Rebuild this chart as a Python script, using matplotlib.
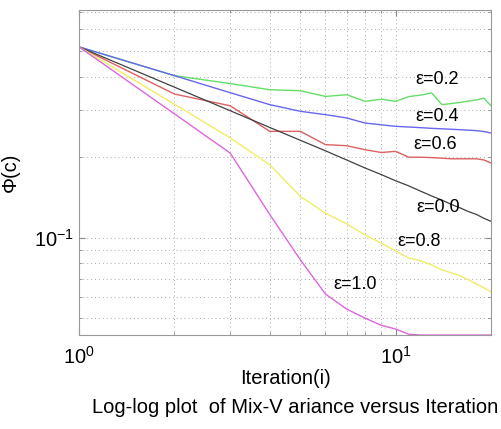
import matplotlib
matplotlib.use("Agg")
import matplotlib.pyplot as plt
from matplotlib.ticker import LogLocator, NullFormatter

plt.rcParams['font.family'] = ['Liberation Sans', 'DejaVu Sans']

iterations = list(range(1, 21))
eps_00 = [0.516, 0.365, 0.298, 0.258, 0.231, 0.211, 0.195, 0.182, 0.172, 0.163,
          0.156, 0.149, 0.143, 0.138, 0.133, 0.129, 0.125, 0.122, 0.118, 0.115]
eps_02 = [0.516, 0.403, 0.3765, 0.357, 0.354, 0.337, 0.342, 0.323, 0.329, 0.323,
          0.3365, 0.341, 0.347, 0.314, 0.317, 0.320, 0.324, 0.327, 0.332, 0.311]
eps_04 = [0.516, 0.403, 0.348, 0.314, 0.2965, 0.288, 0.280, 0.268, 0.264, 0.2605,
          0.259, 0.2575, 0.256, 0.255, 0.254, 0.253, 0.252, 0.251, 0.249, 0.246]
eps_06 = [0.516, 0.344, 0.311, 0.2495, 0.2495, 0.2225, 0.2205, 0.213, 0.208, 0.210,
          0.1997, 0.1997, 0.199, 0.198, 0.197, 0.197, 0.197, 0.197, 0.195, 0.190]
eps_08 = [0.516, 0.315, 0.236, 0.187, 0.1424, 0.1234, 0.1125, 0.1023, 0.0953, 0.0891,
          0.0839, 0.0818, 0.079, 0.0757, 0.0738, 0.0719, 0.0695, 0.067, 0.0649, 0.0626]
eps_10 = [0.516, 0.290, 0.207, 0.122, 0.0825, 0.0615, 0.054, 0.050, 0.047, 0.0455,
          0.0435, 0.0432, 0.0432, 0.0432, 0.0432, 0.0432, 0.0432, 0.0432, 0.0432, 0.0432]

labels = ['ε=0.2', 'ε=0.4', 'ε=0.6', 'ε=0.0', 'ε=0.8', 'ε=1.0']
label_x = [11.57, 11.57, 11.4, 11.65, 10.15, 6.37]
label_y = [0.39, 0.283, 0.222, 0.129, 0.0963, 0.0665]

fig = plt.figure(figsize=(5.01, 4.29), dpi=100)
ax = fig.add_axes([0.158, 0.219, 0.822, 0.758])

ax.plot(iterations, eps_02, color='#66dd66', lw=1.0)
ax.plot(iterations, eps_04, color='#6666ee', lw=1.0)
ax.plot(iterations, eps_06, color='#dd6060', lw=1.0)
ax.plot(iterations, eps_00, color='#404040', lw=0.9)
ax.plot(iterations, eps_08, color='#eeee66', lw=1.0)
ax.plot(iterations, eps_10, color='#dd66dd', lw=1.0)

ax.set_xscale('log')
ax.set_yscale('log')
ax.set_xlim(1, 20)
ax.set_ylim(0.0432, 0.71)

ax.xaxis.set_major_locator(LogLocator(base=10, numticks=10))
ax.xaxis.set_minor_locator(LogLocator(base=10, subs=range(2, 10), numticks=20))
ax.yaxis.set_major_locator(LogLocator(base=10, numticks=10))
ax.yaxis.set_minor_locator(LogLocator(base=10, subs=range(2, 10), numticks=20))
ax.xaxis.set_minor_formatter(NullFormatter())
ax.yaxis.set_minor_formatter(NullFormatter())

ax.grid(True, which='both', linestyle=(0, (1, 3)), color='#aaaaaa', lw=0.7)
ax.tick_params(which='both', direction='in', color='#888888', labelsize=14.5,
               top=True, right=True)
ax.tick_params(which='major', length=4)
ax.tick_params(which='minor', length=2)
ax.tick_params(axis='x', pad=8)
for s in ax.spines.values():
    s.set_color('#999999')

for t, x, y in zip(labels, label_x, label_y):
    ax.text(x, y, t, fontsize=13, ha='left', va='center')

ax.set_xlabel('Iteration(i)', fontsize=14.5, labelpad=1)
ax.set_ylabel('Φ(c)', fontsize=14.5, labelpad=10)

fig.text(0.589, 0.05, 'Log-log plot  of Mix-V ariance versus Iteration',
         fontsize=14.5, ha='center', va='center')

fig.savefig('out.png', dpi=100)
